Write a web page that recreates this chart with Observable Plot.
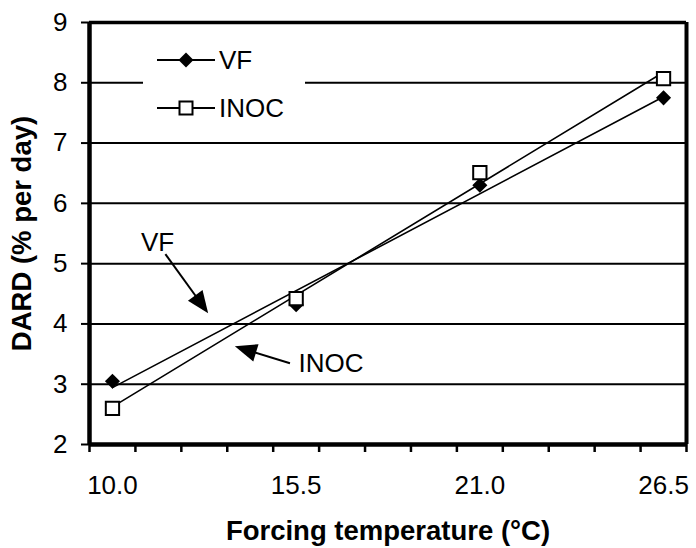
<!DOCTYPE html>
<html><head><meta charset="utf-8">
<script src="https://cdn.jsdelivr.net/npm/d3@7"></script>
<script src="https://cdn.jsdelivr.net/npm/@observablehq/plot@0.6"></script>
<style>
body{margin:0;background:#fff;}
#chart svg{display:block;}
</style>
</head><body><div id="chart"></div>
<script>
// ---- data ----
const temperatures = [10.0, 15.5, 21.0, 26.5];
const vfValues = [3.05, 4.32, 6.30, 7.75];
const inocValues = [2.60, 4.42, 6.51, 8.07];
const yTickValues = [2, 3, 4, 5, 6, 7, 8, 9];
const gridValues = [3, 4, 5, 6, 7, 8];
const xLabelValues = [10.0, 15.5, 21.0, 26.5];
const categoryStep = 1.375;
const legendItems = [{label: "VF", symbol: "diamond"}, {label: "INOC", symbol: "square"}];
const annotationLabels = [
  {text: "VF", x: 11.35, y: 5.35, anchor: "middle"},
  {text: "INOC", x: 15.57, y: 3.34, anchor: "start"}
];
const annotationArrows = [
  {x1: 11.60, y1: 5.15, x2: 12.88, y2: 4.17},
  {x1: 15.33, y1: 3.34, x2: 13.68, y2: 3.62}
];

const xDomain = [temperatures[0] - categoryStep / 2, temperatures[temperatures.length - 1] + categoryStep / 2];
const xTickEdges = d3.range(14).map(k => xDomain[0] + k * categoryStep);

const vfRows = temperatures.map((t, i) => ({t, v: vfValues[i]}));
const inocRows = temperatures.map((t, i) => ({t, v: inocValues[i]}));

const FONT = "'Liberation Sans', Arial, Helvetica, sans-serif";

function legendMark(index, scales, values, dim) {
  const g = d3.create("svg:g");
  const bx = dim.marginLeft + 54, by = dim.marginTop + 18;
  g.append("rect").attr("x", bx).attr("y", by).attr("width", 162).attr("height", 88).attr("fill", "white");
  legendItems.forEach((item, i) => {
    const cy = dim.marginTop + 38 + i * 48;
    const lx = dim.marginLeft + 68;
    const cx = lx + 29;
    g.append("line").attr("x1", lx).attr("x2", lx + 58).attr("y1", cy).attr("y2", cy)
      .attr("stroke", "black").attr("stroke-width", 2);
    if (item.symbol === "diamond") {
      const h = 7.5;
      g.append("path").attr("d", `M${cx},${cy - h}L${cx + h},${cy}L${cx},${cy + h}L${cx - h},${cy}Z`).attr("fill", "black");
    } else {
      const s = 13;
      g.append("rect").attr("x", cx - s / 2).attr("y", cy - s / 2).attr("width", s).attr("height", s)
        .attr("fill", "white").attr("stroke", "black").attr("stroke-width", 2);
    }
    g.append("text").attr("x", lx + 62).attr("y", cy).attr("dy", "0.36em")
      .attr("text-anchor", "start")
      .attr("font-size", 26).attr("font-family", FONT).attr("fill", "black").text(item.label);
  });
  return g.node();
}

function arrowMark(index, scales) {
  const {x, y} = scales;
  const g = d3.create("svg:g");
  for (const a of annotationArrows) {
    const x1 = x(a.x1), y1 = y(a.y1), x2 = x(a.x2), y2 = y(a.y2);
    const dx = x2 - x1, dy = y2 - y1, len = Math.hypot(dx, dy);
    const ux = dx / len, uy = dy / len;
    const hl = 22, hw = 9;
    const bx = x2 - ux * hl, by = y2 - uy * hl;
    g.append("line").attr("x1", x1).attr("y1", y1).attr("x2", bx + ux * 2).attr("y2", by + uy * 2)
      .attr("stroke", "black").attr("stroke-width", 2);
    g.append("path").attr("d", `M${x2},${y2}L${bx - uy * hw},${by + ux * hw}L${bx + uy * hw},${by - ux * hw}Z`)
      .attr("fill", "black");
  }
  return g.node();
}

const chart = Plot.plot({
  width: 696,
  height: 548,
  marginLeft: 89,
  marginRight: 10,
  marginTop: 22,
  marginBottom: 104,
  style: {fontFamily: FONT, background: "white", color: "black", overflow: "visible"},
  x: {domain: xDomain},
  y: {domain: [2, 9]},
  marks: [
    Plot.ruleY(gridValues, {stroke: "black", strokeWidth: 2}),
    legendMark,
    Plot.linearRegressionY(vfRows, {x: "t", y: "v", ci: 0, stroke: "black", strokeWidth: 1.6}),
    Plot.linearRegressionY(inocRows, {x: "t", y: "v", ci: 0, stroke: "black", strokeWidth: 1.6}),
    Plot.dot(vfRows, {x: "t", y: "v", symbol: "diamond2", fill: "black", r: 6.8}),
    Plot.dot(inocRows, {x: "t", y: "v", symbol: "square", fill: "white", stroke: "black", strokeWidth: 2, r: 7.5}),
    arrowMark,
    Plot.text(annotationLabels.filter(d => d.anchor === "middle"), {x: "x", y: "y", text: "text", textAnchor: "middle", fontSize: 26, fill: "black"}),
    Plot.text(annotationLabels.filter(d => d.anchor === "start"), {x: "x", y: "y", text: "text", textAnchor: "start", fontSize: 26, fill: "black"}),
    Plot.ruleY([9], {stroke: "black", strokeWidth: 3.5}),
    Plot.ruleX([xDomain[1]], {stroke: "black", strokeWidth: 4}),
    Plot.ruleX([xDomain[0]], {stroke: "black", strokeWidth: 4.5}),
    Plot.ruleY([2], {stroke: "black", strokeWidth: 4.5}),
    Plot.axisY({ticks: yTickValues, tickSize: 8, tickPadding: 14, tickFormat: "d", fontSize: 26, strokeWidth: 2, label: null}),
    Plot.axisX({ticks: xTickEdges, tickSize: 8, tickFormat: () => "", strokeWidth: 2.5, label: null}),
    Plot.axisX({ticks: xLabelValues, tickSize: 0, tickPadding: 31, tickFormat: d3.format(".1f"), fontSize: 26, label: null}),
    Plot.text(["Forcing temperature (°C)"], {frameAnchor: "bottom", dy: 87, textAnchor: "middle", lineAnchor: "middle", fontWeight: "bold", fontSize: 27.5, fill: "black"}),
    Plot.text(["DARD (% per day)"], {frameAnchor: "left", dx: -67, rotate: -90, textAnchor: "middle", lineAnchor: "middle", fontWeight: "bold", fontSize: 27.5, fill: "black"})
  ]
});
document.getElementById("chart").appendChild(chart);
</script>
</body></html>
